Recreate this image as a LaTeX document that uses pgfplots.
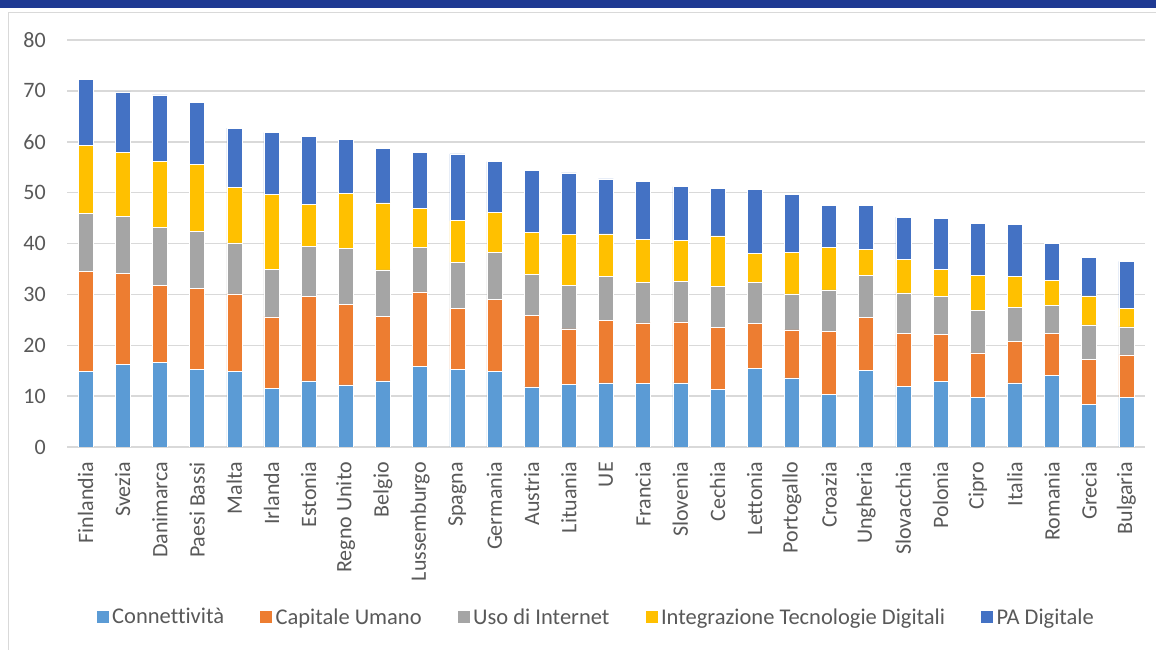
\documentclass[border=0pt]{standalone}
\usepackage{pgfplots}
\usepackage{pgfplotstable}
\pgfplotsset{compat=1.18}
\usepackage{fontspec}
\setmainfont[Ligatures={NoCommon}]{Carlito}
\definecolor{cC}{HTML}{5B9BD5}
\definecolor{cCU}{HTML}{ED7D31}
\definecolor{cUI}{HTML}{A5A5A5}
\definecolor{cITD}{HTML}{FFC000}
\definecolor{cPA}{HTML}{4472C4}
\definecolor{txt}{HTML}{595959}
\definecolor{gridc}{HTML}{D9D9D9}
\definecolor{band}{RGB}{31,58,147}
\pgfplotstableread{
x C CU UI ITD PA
0 14.9 19.6 11.4 13.4 13.0
1 16.2 17.9 11.3 12.5 11.9
2 16.6 15.2 11.3 13.0 13.1
3 15.2 16.0 11.2 13.2 12.1
4 14.8 15.3 10.0 10.9 11.7
5 11.5 14.1 9.3 14.8 12.1
6 13.0 16.6 9.9 8.2 13.4
7 12.2 15.8 11.0 10.8 10.6
8 13.0 12.7 9.1 13.2 10.7
9 15.9 14.6 8.7 7.7 11.0
10 15.3 11.9 9.1 8.2 13.1
11 14.9 14.1 9.2 7.9 10.0
12 11.8 14.1 8.1 8.2 12.2
13 12.3 10.9 8.6 10.0 12.1
14 12.6 12.3 8.7 8.3 10.8
15 12.5 11.9 8.0 8.4 11.4
16 12.6 12.0 7.9 8.1 10.6
17 11.3 12.2 8.0 10.0 9.3
18 15.5 8.8 8.1 5.6 12.7
19 13.6 9.4 7.1 8.2 11.3
20 10.4 12.3 8.2 8.3 8.3
21 15.0 10.5 8.3 5.1 8.6
22 11.9 10.4 8.0 6.6 8.3
23 12.9 9.2 7.5 5.3 10.0
24 9.7 8.8 8.3 6.9 10.2
25 12.6 8.1 6.7 6.2 10.1
26 14.1 8.3 5.4 4.9 7.3
27 8.4 8.8 6.8 5.7 7.6
28 9.7 8.4 5.5 3.7 9.2
}\datatable
\begin{document}
\begin{tikzpicture}
\useasboundingbox (0,0) rectangle (1156bp,650bp);
\fill[white] (0,0) rectangle (1156bp,650bp);
\fill[band] (0,641.5bp) rectangle (1156bp,650bp);
\draw[gridc, line width=1.5bp] (8.5bp,-10bp) -- (8.5bp,637.5bp) -- (1170bp,637.5bp);
\begin{axis}[
  at={(67bp,203bp)}, anchor=south west,
  scale only axis, width=1078bp, height=407bp,
  ybar stacked, bar width=15bp,
  xmin=-0.5, xmax=28.5, ymin=0, ymax=80,
  ytick={0,10,...,80},
  xtick=data,
  xticklabels={Finlandia,Svezia,Danimarca,Paesi Bassi,Malta,Irlanda,Estonia,Regno Unito,Belgio,Lussemburgo,Spagna,Germania,Austria,Lituania,UE,Francia,Slovenia,Cechia,Lettonia,Portogallo,Croazia,Ungheria,Slovacchia,Polonia,Cipro,Italia,Romania,Grecia,Bulgaria},
  axis line style={draw=none},
  major tick length=0pt,
  tick style={draw=none},
  xmajorgrids=false,
  ymajorgrids=true,
  major grid style={draw=gridc, line width=1.5bp},
  /pgf/number format/assume math mode=true,
  tick label style={font=\fontsize{22bp}{26bp}\selectfont, text=txt, inner sep=0pt},
  x tick label style={rotate=90, anchor=east},
  y tick label style={anchor=east},
  xticklabel shift=15bp,
  yticklabel shift=21bp,
  legend columns=5,
  legend image code/.code={\fill[#1] (0bp,-6.5bp) rectangle (13bp,6.5bp);},
  legend style={draw=none, fill=none, at={(0.491,-0.4177)}, anchor=center,
    font=\fontsize{22.5bp}{26bp}\selectfont, text=txt,
    /tikz/every odd column/.append style={column sep=0bp},
    /tikz/every even column/.append style={column sep=32bp},
    nodes={inner xsep=3bp, inner ysep=0pt}},
  every axis plot/.append style={draw=white, line width=0.5bp},
]
\addplot[fill=cC] table[x=x,y=C]{\datatable};
\addplot[fill=cCU] table[x=x,y=CU]{\datatable};
\addplot[fill=cUI] table[x=x,y=UI]{\datatable};
\addplot[fill=cITD] table[x=x,y=ITD]{\datatable};
\addplot[fill=cPA] table[x=x,y=PA]{\datatable};
\legend{Connettività,Capitale Umano,Uso di Internet,Integrazione Tecnologie Digitali,PA Digitale}
\end{axis}
\end{tikzpicture}
\end{document}
